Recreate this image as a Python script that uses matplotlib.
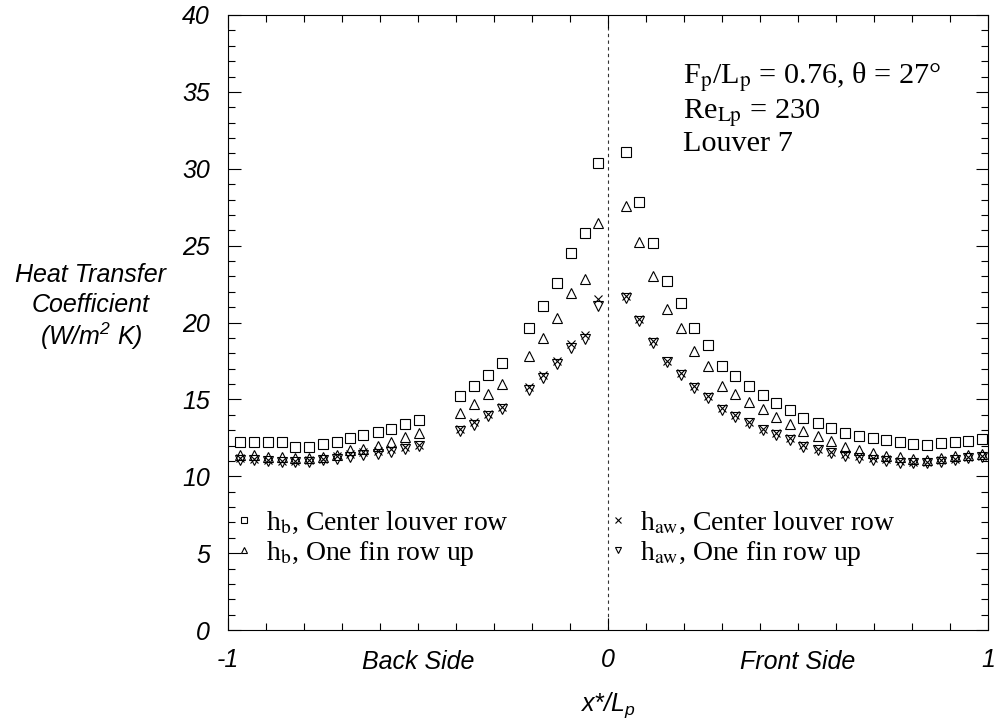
import matplotlib
matplotlib.use("Agg")
import matplotlib.pyplot as plt
from matplotlib.ticker import MultipleLocator, FixedLocator
from matplotlib.lines import Line2D
from matplotlib.transforms import blended_transform_factory

plt.rcParams['font.family'] = ['Liberation Sans', 'DejaVu Sans']
plt.rcParams['mathtext.fontset'] = 'custom'
plt.rcParams['mathtext.it'] = 'Liberation Sans:italic'
plt.rcParams['mathtext.rm'] = 'Liberation Sans:italic'

# x*/Lp positions, back side (-1..0) then front side (0..1)
x_back = [-0.968, -0.932, -0.895, -0.858, -0.824, -0.787, -0.750, -0.713, -0.679, -0.645,
          -0.605, -0.571, -0.534, -0.497, -0.389, -0.353, -0.316, -0.279, -0.208, -0.171,
          -0.134, -0.097, -0.061, -0.026]
x_front = [0.047, 0.082, 0.119, 0.154, 0.192, 0.226, 0.264, 0.299, 0.334, 0.371, 0.407,
           0.442, 0.479, 0.514, 0.553, 0.587, 0.624, 0.661, 0.697, 0.732, 0.768, 0.803,
           0.840, 0.876, 0.913, 0.948, 0.983]

# h_b, center louver row
hb_center = [12.25, 12.2, 12.2, 12.2, 11.9, 11.9, 12.1, 12.25, 12.5, 12.7, 12.9, 13.1, 13.4,
             13.65, 15.24, 15.87, 16.59, 17.35, 19.62, 21.07, 22.59, 24.54, 25.8, 30.35,
             31.07, 27.86, 25.19, 22.7, 21.29, 19.66, 18.54, 17.17, 16.54, 15.87, 15.28,
             14.74, 14.31, 13.81, 13.48, 13.16, 12.83, 12.62, 12.47, 12.36, 12.23, 12.08,
             12.03, 12.14, 12.25, 12.31, 12.4]
# h_b, one fin row up
hb_up = [11.38, 11.38, 11.27, 11.27, 11.17, 11.17, 11.27, 11.38, 11.7, 11.8, 12.0, 12.25,
         12.57, 12.83, 14.09, 14.68, 15.35, 16.0, 17.82, 18.97, 20.27, 21.9, 22.8, 26.45,
         27.58, 25.26, 23.02, 20.86, 19.62, 18.17, 17.17, 15.87, 15.35, 14.85, 14.37, 13.87,
         13.42, 12.94, 12.62, 12.31, 11.92, 11.7, 11.53, 11.32, 11.23, 11.1, 11.06, 11.17,
         11.32, 11.38, 11.45]
# h_aw, center louver row
haw_center = [11.2, 11.1, 11.05, 11.0, 11.0, 11.05, 11.15, 11.3, 11.45, 11.55, 11.65, 11.75,
              11.9, 12.05, 13.1, 13.5, 14.05, 14.5, 15.8, 16.6, 17.5, 18.6, 19.2, 21.5,
              21.7, 20.2, 18.8, 17.5, 16.7, 15.85, 15.2, 14.45, 14.0, 13.55, 13.1, 12.8,
              12.5, 12.05, 11.8, 11.6, 11.45, 11.3, 11.2, 11.1, 11.0, 10.95, 10.95, 11.05,
              11.15, 11.25, 11.3]
# h_aw, one fin row up
haw_up = [11.05, 11.05, 11.0, 10.9, 10.9, 10.95, 11.05, 11.15, 11.25, 11.35, 11.45, 11.6,
          11.8, 11.95, 12.95, 13.35, 13.9, 14.35, 15.6, 16.4, 17.3, 18.35, 18.9, 21.1,
          21.57, 20.12, 18.69, 17.41, 16.59, 15.72, 15.07, 14.31, 13.87, 13.44, 13.0, 12.68,
          12.36, 11.92, 11.7, 11.49, 11.32, 11.17, 11.06, 11.01, 10.88, 10.84, 10.84, 10.95,
          11.06, 11.17, 11.23]

x_all = x_back + x_front

fig = plt.figure(figsize=(10.04, 7.27), dpi=100)
ax = fig.add_axes([228 / 1004, 97 / 727, 760 / 1004, 615 / 727])

ax.axvline(0, color='#333333', lw=0.8, ls=(0, (3, 3)), zorder=1)

mk = dict(ls='none', mfc='none', mec='black', mew=0.8)
ax.plot(x_all, hb_center, marker='s', ms=7, **mk)
ax.plot(x_all, hb_up, marker='^', ms=6.5, **mk)
ax.plot(x_all, haw_center, marker='x', ms=6, **mk)
ax.plot(x_all, haw_up, marker='v', ms=6.5, **mk)

ax.set_xlim(-1, 1)
ax.set_ylim(0, 40)
ax.xaxis.set_major_locator(FixedLocator([-1, 0, 1]))
ax.set_xticklabels(['-1', '0', '1'])
ax.xaxis.set_minor_locator(MultipleLocator(0.1))
ax.yaxis.set_major_locator(MultipleLocator(5))
ax.yaxis.set_minor_locator(MultipleLocator(1))
ax.tick_params(which='both', direction='in', top=True, right=True, width=0.8,
               labelsize=18, colors='black')
ax.tick_params(which='major', length=9, pad=13)
ax.tick_params(which='minor', length=5)
for lab in ax.get_xticklabels() + ax.get_yticklabels():
    lab.set_fontstyle('italic')
for sp in ax.spines.values():
    sp.set_linewidth(0.8)

trans = blended_transform_factory(ax.transData, ax.transAxes)
ax.text(-0.5, -0.032, 'Back Side', transform=trans, ha='center', va='top',
        fontsize=18, style='italic')
ax.text(0.5, -0.032, 'Front Side', transform=trans, ha='center', va='top',
        fontsize=18, style='italic')
ax.text(0, -0.098, r'x*/L$_p$', transform=trans, ha='center', va='top',
        fontsize=18, style='italic')

for txt, ypx in [('Heat Transfer', 275), ('Coefficient', 305), ('(W/m$^2$ K)', 336)]:
    fig.text(91 / 1004, 1 - ypx / 727, txt, ha='center', va='center',
             fontsize=18, style='italic')

serif = dict(fontsize=21.8, family='Liberation Serif', math_fontfamily='stix')
fig.text(683 / 1004, 1 - 83 / 727, r'F$_\mathrm{p}$/L$_\mathrm{p}$ = 0.76, θ = 27°',
         va='baseline', **serif)
fig.text(683 / 1004, 1 - 118 / 727, r'Re$_\mathrm{Lp}$ = 230', va='baseline', **serif)
fig.text(683 / 1004, 1 - 151 / 727, 'Louver 7', va='baseline', **serif)

h_sq = Line2D([], [], marker='s', ms=5, **mk)
h_tri = Line2D([], [], marker='^', ms=5, **mk)
h_x = Line2D([], [], marker='x', ms=5, **mk)
h_v = Line2D([], [], marker='v', ms=5, **mk)
leg_kw = dict(frameon=False, handlelength=0.6, handletextpad=0.5, labelspacing=0.12,
              borderpad=0, borderaxespad=0, loc='upper left',
              prop={'family': 'Liberation Serif', 'size': 20})
leg1 = ax.legend([h_sq, h_tri], [r'h$_\mathrm{b}$, Center louver row',
                                 r'h$_\mathrm{b}$, One fin row up'],
                 bbox_to_anchor=(0.010, 0.196), **leg_kw)
ax.add_artist(leg1)
leg2 = ax.legend([h_x, h_v], [r'h$_\mathrm{aw}$, Center louver row',
                              r'h$_\mathrm{aw}$, One fin row up'],
                 bbox_to_anchor=(0.502, 0.196), **leg_kw)
for lg in (leg1, leg2):
    for t in lg.get_texts():
        t.set_math_fontfamily('stix')

fig.savefig('out.png', dpi=100)
